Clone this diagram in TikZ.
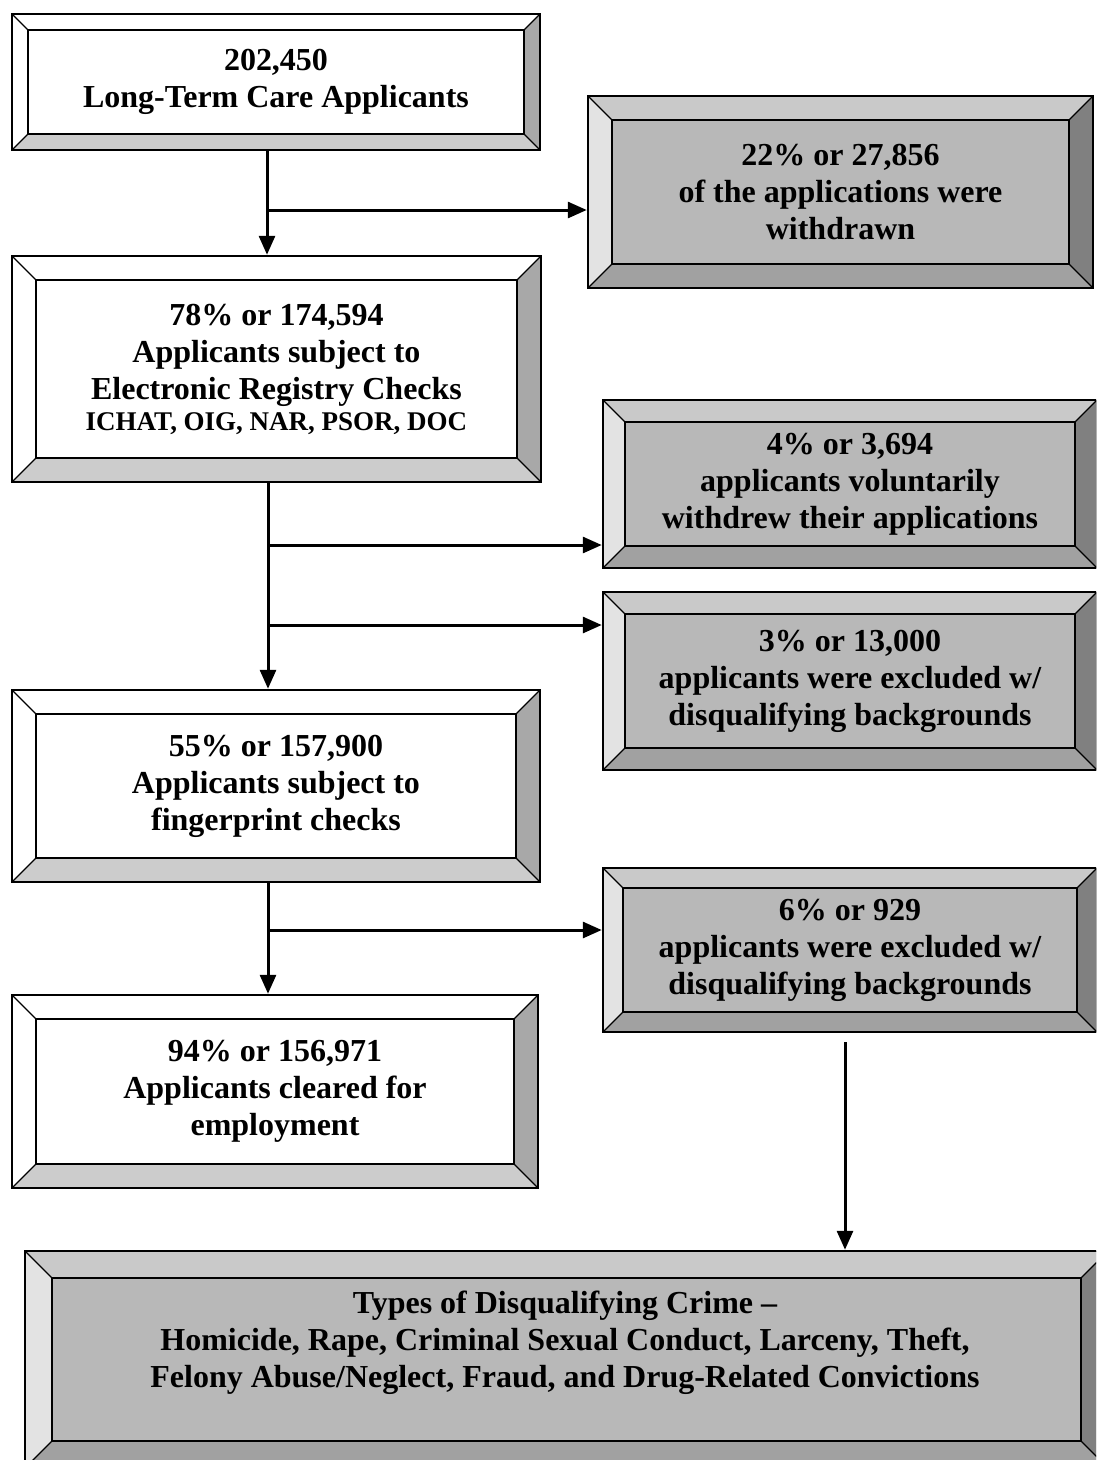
\documentclass[tikz,border=0pt]{standalone}
\usepackage{fontspec}
\setmainfont{Liberation Serif}
\usetikzlibrary{arrows.meta, calc}

% shades of the bevelled frames
\definecolor{rimWR}{gray}{0.66}
\definecolor{rimWB}{gray}{0.80}
\definecolor{greyIn}{gray}{0.72}
\definecolor{rimGT}{gray}{0.79}
\definecolor{rimGL}{gray}{0.89}
\definecolor{rimGR}{gray}{0.50}
\definecolor{rimGB}{gray}{0.63}

% bevel rim: #1 depth, #2 top, #3 left, #4 right, #5 bottom
\newcommand{\bevelrim}[5]{%
  \coordinate (bA) at (path picture bounding box.north west);
  \coordinate (bB) at (path picture bounding box.north east);
  \coordinate (bC) at (path picture bounding box.south east);
  \coordinate (bD) at (path picture bounding box.south west);
  \coordinate (ba) at ($(bA)+(#1pt,-#1pt)$);
  \coordinate (bb) at ($(bB)+(-#1pt,-#1pt)$);
  \coordinate (bc) at ($(bC)+(-#1pt,#1pt)$);
  \coordinate (bd) at ($(bD)+(#1pt,#1pt)$);
  \fill[#2] (bA) -- (bB) -- (bb) -- (ba) -- cycle;
  \fill[#3] (bA) -- (ba) -- (bd) -- (bD) -- cycle;
  \fill[#4] (bB) -- (bC) -- (bc) -- (bb) -- cycle;
  \fill[#5] (bD) -- (bd) -- (bc) -- (bC) -- cycle;
  \draw[line width=1.5pt] (ba) rectangle (bc);
  \draw[line width=1.2pt] (bA) -- (ba) (bB) -- (bb) (bC) -- (bc) (bD) -- (bd);
  \draw[line width=2.5pt] (bA) rectangle (bC);
}

\begin{document}
\begin{tikzpicture}[x=1pt, y=-1pt,
    box/.style={draw, line width=2.5pt, align=center, inner sep=0pt,
      font=\bfseries\fontsize{32}{37}\selectfont},
    whitebox/.style={box, fill=white,
      path picture={\bevelrim{#1}{white}{white}{rimWR}{rimWB}}},
    greybox/.style={box, fill=greyIn,
      path picture={\bevelrim{#1}{rimGT}{rimGL}{rimGR}{rimGB}}},
    link/.style={line width=3pt, -{Triangle[length=19pt,width=16pt]}},
    txt/.style={align=center, inner sep=0pt,
      font=\bfseries\fontsize{32}{37}\selectfont}]
    % Page
    \useasboundingbox (0,0) rectangle (1096,1460);
    \clip (0,0) rectangle (1096,1460);

    % Left column
    \node[whitebox=16, minimum width=528, minimum height=136] (app) at (276,82)
        {202,450\\Long-Term Care Applicants};
    \node[whitebox=24, minimum width=529, minimum height=226] (reg) at (276.5,369)
        {78\% or 174,594\\Applicants subject to\\Electronic Registry Checks\\[-6pt]
         {\fontsize{27}{31}\selectfont ICHAT, OIG, NAR, PSOR, DOC}};
    \node[whitebox=24, minimum width=528, minimum height=192] (fpc) at (276,786)
        {55\% or 157,900\\Applicants subject to\\fingerprint checks};
    \node[whitebox=24, minimum width=526, minimum height=193] (clr) at (275,1091.5)
        {94\% or 156,971\\Applicants cleared for\\employment};

    % Right column
    \node[greybox=24, minimum width=505, minimum height=192] (wdr) at (840.5,192)
        {22\% or 27,856\\of the applications were\\withdrawn};
    \node[greybox=22, minimum width=494, minimum height=168] (vol) at (850,484)
        {4\% or 3,694\\applicants voluntarily\\withdrew their applications};
    \node[greybox=22, minimum width=494, minimum height=178] (exc1) at (850,681)
        {3\% or 13,000\\applicants were excluded w/\\disqualifying backgrounds};
    \node[greybox=20, minimum width=494, minimum height=164] (exc2) at (850,950)
        {6\% or 929\\applicants were excluded w/\\disqualifying backgrounds};

    % Crime types
    \node[greybox=27, minimum width=1083, minimum height=217] (crime) at (566.5,1359.5) {};
    \node[txt] (crimetxt) at (565,1343)
        {Types of Disqualifying Crime --\\
         Homicide, Rape, Criminal Sexual Conduct, Larceny, Theft,\\
         Felony Abuse/Neglect, Fraud, and Drug-Related Convictions};

    % Trunks
    \coordinate (t1) at (267,210);
    \coordinate (t2) at (268,545);
    \coordinate (t3) at (268,625);
    \coordinate (t4) at (268,930);
    \coordinate (t5) at (845,1042);
    \draw[link] (t1 |- app.south) -- (t1 |- reg.north);
    \draw[link] (t2 |- reg.south) -- (t2 |- fpc.north);
    \draw[link] (t4 |- fpc.south) -- (t4 |- clr.north);
    \draw[link] (t5) -- (t5 |- crime.north);

    % Branches
    \foreach \from/\to in {t1/wdr, t2/vol, t3/exc1, t4/exc2}
    {
        \draw[link] (\from) -- (\from -| \to.west);
    }
\end{tikzpicture}
\end{document}
